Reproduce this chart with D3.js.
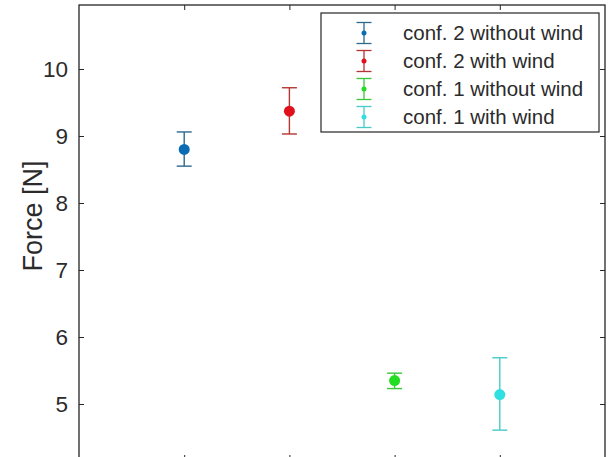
<!DOCTYPE html>
<html>
<head>
<meta charset="utf-8">
<script src="https://cdn.jsdelivr.net/npm/d3@7"></script>
<style>
    body { margin: 0; background: #fff; }
    text { font-family: "Liberation Sans", Arial, sans-serif; fill: #2b2b2b; }
    .axis path, .axis line { stroke: #262626; }
</style>
</head>
<body>
<svg id="chart" width="608" height="457"></svg>
<script>

// data
var labels = ["conf. 2 without wind", "conf. 2 with wind", "conf. 1 without wind", "conf. 1 with wind"];
var positions = [1, 2, 3, 4];
var means = [8.80, 9.37, 5.35, 5.14];
var lowers = [8.55, 9.03, 5.23, 4.61];
var uppers = [9.06, 9.72, 5.46, 5.69];
var yTicks = [5, 6, 7, 8, 9, 10];
var xTicks = [1, 2, 3, 4];

var markerColours = ["#0a6db3", "#e0101c", "#22dd22", "#30e0e0"];
var lineColours = ["#2c6a8c", "#b53434", "#38c838", "#48caca"];

var svg = d3.select("#chart");

var plot = { left: 79, right: 605, top: 5, bottom: 460 };

var x = d3.scaleLinear().domain([0, 5]).range([plot.left, plot.right]);
var y = d3.scaleLinear().domain([4.164, 10.955]).range([plot.bottom, plot.top]);

var data = positions.map(function(p, i) {
    return { pos: p, mean: means[i], lo: lowers[i], hi: uppers[i], label: labels[i], i: i };
});

// box
svg.append("rect")
    .attr("x", plot.left).attr("y", plot.top)
    .attr("width", plot.right - plot.left).attr("height", plot.bottom - plot.top)
    .attr("fill", "none").attr("stroke", "#262626").attr("stroke-width", 1.3);

// Add the Y Axis (left)
var yAxis = d3.axisLeft(y).tickValues(yTicks).tickSize(-5).tickPadding(11).tickFormat(d3.format("d"));
var gy = svg.append("g")
    .attr("class", "y axis")
    .attr("transform", "translate(" + plot.left + ",0)")
    .call(yAxis);
gy.select(".domain").remove();
gy.selectAll("text").style("font-size", "22.5px");

// right side ticks
svg.append("g")
    .attr("class", "y axis")
    .attr("transform", "translate(" + plot.right + ",0)")
    .call(d3.axisRight(y).tickValues(yTicks).tickSize(-5).tickFormat(""))
    .select(".domain").remove();

// x ticks top and bottom, no labels
svg.append("g")
    .attr("class", "x axis")
    .attr("transform", "translate(0," + plot.top + ")")
    .call(d3.axisTop(x).tickValues(xTicks).tickSize(-5).tickFormat(""))
    .select(".domain").remove();
svg.append("g")
    .attr("class", "x axis")
    .attr("transform", "translate(0," + plot.bottom + ")")
    .call(d3.axisBottom(x).tickValues(xTicks).tickSize(-5).tickFormat(""))
    .select(".domain").remove();

// y label
svg.append("text")
    .attr("transform", "translate(42,216) rotate(-90)")
    .attr("text-anchor", "middle")
    .style("font-size", "27px")
    .text("Force [N]");

// error bars
var capHalf = 7.5;
var bars = svg.append("g").selectAll(".ebar")
    .data(data)
    .enter().append("g")
    .attr("class", "ebar");

bars.append("line")
    .attr("x1", function(d) { return x(d.pos); })
    .attr("x2", function(d) { return x(d.pos); })
    .attr("y1", function(d) { return y(d.lo); })
    .attr("y2", function(d) { return y(d.hi); })
    .style("stroke", function(d) { return lineColours[d.i]; })
    .style("stroke-width", 1.4);

bars.selectAll(".cap")
    .data(function(d) { return [d.lo, d.hi].map(function(v) { return { v: v, d: d }; }); })
    .enter().append("line")
    .attr("class", "cap")
    .attr("x1", function(c) { return x(c.d.pos) - capHalf; })
    .attr("x2", function(c) { return x(c.d.pos) + capHalf; })
    .attr("y1", function(c) { return y(c.v); })
    .attr("y2", function(c) { return y(c.v); })
    .style("stroke", function(c) { return lineColours[c.d.i]; })
    .style("stroke-width", 1.4);

bars.append("circle")
    .attr("cx", function(d) { return x(d.pos); })
    .attr("cy", function(d) { return y(d.mean); })
    .attr("r", 5.5)
    .style("fill", function(d) { return markerColours[d.i]; });

// legend
var legend = svg.append("g").attr("class", "legend");
legend.append("rect")
    .attr("x", 321).attr("y", 13)
    .attr("width", 278).attr("height", 119)
    .attr("fill", "#fff").attr("stroke", "#262626").attr("stroke-width", 1.2);

var rowY = d3.scalePoint().domain(d3.range(labels.length)).range([33, 117]);

var items = legend.selectAll(".item")
    .data(data)
    .enter().append("g")
    .attr("class", "item")
    .attr("transform", function(d) { return "translate(364," + rowY(d.i) + ")"; });

items.append("line")
    .attr("y1", -10.5).attr("y2", 10.5)
    .style("stroke", function(d) { return lineColours[d.i]; })
    .style("stroke-width", 1.3);
items.selectAll(".lcap")
    .data(function(d) { return [-10.5, 10.5].map(function(v) { return { v: v, d: d }; }); })
    .enter().append("line")
    .attr("x1", -capHalf).attr("x2", capHalf)
    .attr("y1", function(c) { return c.v; })
    .attr("y2", function(c) { return c.v; })
    .style("stroke", function(c) { return lineColours[c.d.i]; })
    .style("stroke-width", 1.3);
items.append("circle")
    .attr("r", 2.5)
    .style("fill", function(d) { return markerColours[d.i]; });
items.append("text")
    .attr("x", 39)
    .attr("dy", "0.36em")
    .style("font-size", "20.5px")
    .text(function(d) { return d.label; });

</script>
</body>
</html>
